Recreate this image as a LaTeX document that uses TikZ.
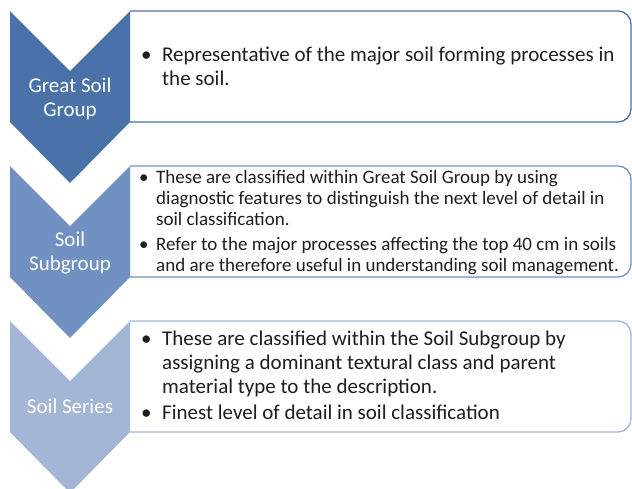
\documentclass[tikz,border=0pt]{standalone}
\usepackage{fontspec}
\setmainfont{Carlito}
\definecolor{levA}{HTML}{4A72A9}
\definecolor{levB}{HTML}{7191C2}
\definecolor{levC}{HTML}{A3B6D6}
\definecolor{bodytext}{HTML}{1E1E1E}
\newlength\bulind
\newcommand\bpar[1]{\par\hangindent=\bulind\hangafter=1\noindent\makebox[\bulind][l]{\textbullet}#1}
\tikzset{
  chevron/.style={fill=#1, draw=none},
  infobox/.style={draw=#1, line width=1.3pt, fill=white, rounded corners=13pt},
  levlabel/.style={text=white, align=center, inner sep=0pt, font=\fontsize{21}{24}\selectfont},
  bodynode/.style={anchor=base west, inner sep=0pt, text=bodytext},
}
% one tier: info box behind a chevron; #1 = top edge, #2 = colour
\newcommand\tier[2]{%
  \path[infobox=#2] (130,#1) -- (631,#1) -- (631,#1+111) -- (130,#1+111);
  \fill[chevron=#2] (10,#1) -- (70,#1+60) -- (130,#1) -- (130,#1+111)
     -- (70,#1+172) -- (10,#1+111) -- cycle;}
\begin{document}
\begin{tikzpicture}[x=1pt,y=-1pt]
\useasboundingbox (0,0) rectangle (632,488);
\tier{11}{levA}
\tier{166}{levB}
\tier{321}{levC}

\node[levlabel] (great) at (70,99) {Great Soil\\Group};
\node[levlabel] (subgroup) at (70,253) {Soil\\Subgroup};
\node[levlabel] (series) at (70,406) {Soil Series};

\node[bodynode] (greattext) at (141,61.5) {\parbox[t]{485pt}{%
  \raggedright\fontsize{21}{23.5}\selectfont\setlength\bulind{21pt}%
  \bpar{Representative of the major soil forming processes in\newline the soil.}}};

\node[bodynode] (subtext) at (139,183.3) {\parbox[t]{488pt}{%
  \raggedright\fontsize{19}{21}\selectfont\setlength\bulind{17pt}\setlength\parskip{4pt}%
  \bpar{These are classified within Great Soil Group by using\newline
    diagnostic features to distinguish the next level of detail in\newline
    soil classification.}
  \bpar{Refer to the major processes affecting the top 40 cm in soils\newline
    and are therefore useful in understanding soil management.}}};

\node[bodynode] (seriestext) at (141,345.5) {\parbox[t]{485pt}{%
  \raggedright\fontsize{21}{24}\selectfont\setlength\bulind{21pt}\setlength\parskip{2pt}%
  \bpar{These are classified within the Soil Subgroup by\newline
    assigning a dominant textural class and parent\newline
    material type to the description.}
  \bpar{Finest level of detail in soil classification}}};
\end{tikzpicture}
\end{document}
